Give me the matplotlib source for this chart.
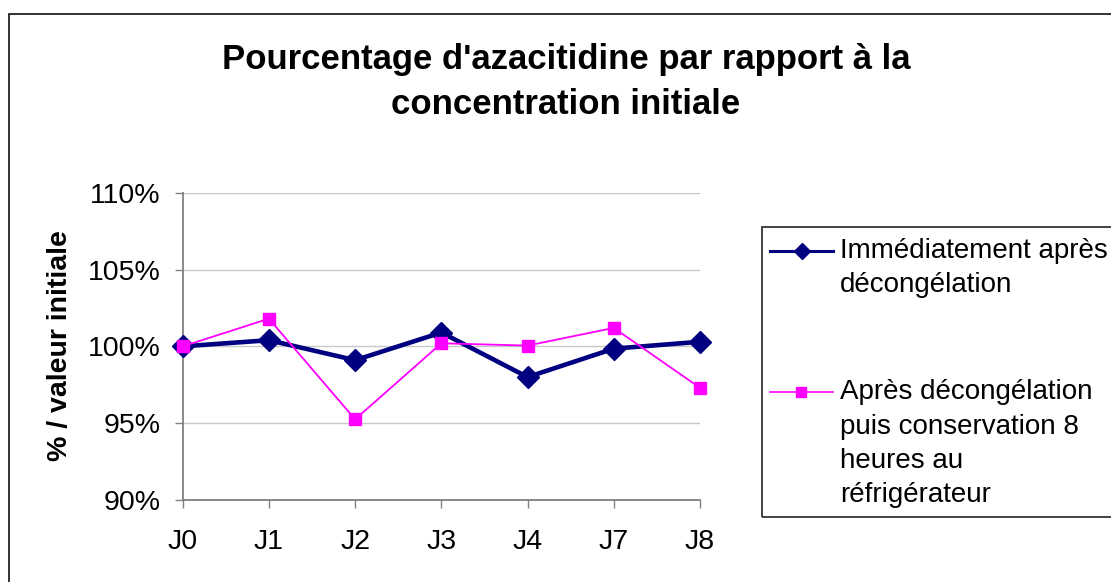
import matplotlib
matplotlib.use("Agg")
import matplotlib.pyplot as plt
from matplotlib.lines import Line2D
from matplotlib.patches import Rectangle
from matplotlib.ticker import FuncFormatter

plt.rcParams['font.family'] = ['Liberation Sans', 'DejaVu Sans']

categories = ["J0", "J1", "J2", "J3", "J4", "J7", "J8"]
immediat = [100.0, 100.4, 99.1, 100.9, 98.0, 99.85, 100.3]
conserve = [100.0, 101.8, 95.25, 100.2, 100.05, 101.2, 97.3]
title = "Pourcentage d'azacitidine par rapport à la\nconcentration initiale"
ylabel = "% / valeur initiale"
label1 = ["Immédiatement après", "décongélation"]
label2 = ["Après décongélation", "puis conservation 8", "heures au", "réfrigérateur"]
yticks = [90, 95, 100, 105, 110]

W, H = 1111, 582
fig = plt.figure(figsize=(W / 100, H / 100), dpi=100)

def fx(x):
    return x / W

def fy(y):
    return 1 - y / H

# outer chart border (extends beyond figure right/bottom)
fig.patches.append(Rectangle((fx(8.5), fy(700)), fx(1200), fy(13.7) - fy(700),
                             transform=fig.transFigure, fill=False,
                             edgecolor='#222222', linewidth=1.3))

ax = fig.add_axes([fx(182.7), fy(500), fx(700) - fx(182.7), fy(192.7) - fy(500)])
x = list(range(len(categories)))
ax.plot(x, immediat, color='#000080', linewidth=3.3, marker='D', markersize=11,
        markerfacecolor='#000080', markeredgecolor='#000080', clip_on=False, zorder=3)
ax.plot(x, conserve, color='#FF00FF', linewidth=1.3, marker='s', markersize=9,
        markerfacecolor='#FF00FF', markeredgecolor='#FF00FF', clip_on=False, zorder=4)

ax.set_xlim(0, len(categories) - 1)
ax.set_ylim(90, 110)
ax.set_yticks(yticks)
ax.yaxis.set_major_formatter(FuncFormatter(lambda v, p: f"{v:.0f}%"))
ax.set_xticks(x)
ax.set_xticklabels(categories)
ax.grid(axis='y', color='#c8c8c8', linewidth=1)
ax.set_axisbelow(True)
for s in ['top', 'right']:
    ax.spines[s].set_visible(False)
for s in ['left', 'bottom']:
    ax.spines[s].set_color('#808080')
    ax.spines[s].set_linewidth(1.3)
ax.tick_params(axis='y', length=6, width=1, color='#808080', labelsize=20.5, pad=10)
ax.tick_params(axis='x', length=6, width=1, color='#808080', labelsize=20.5, pad=15)

fig.text(fx(60), fy(346), ylabel, rotation=90, ha='center', va='center',
         fontsize=20.5, fontweight='bold')
fig.text(fx(566), fy(82), title, ha='center', va='center', fontsize=25,
         fontweight='bold', linespacing=1.45)

# legend box (extends past the figure edge)
fig.patches.append(Rectangle((fx(762), fy(517)), fx(500), fy(227) - fy(517),
                             transform=fig.transFigure, fill=False,
                             edgecolor='#222222', linewidth=1.2))
fig.lines.append(Line2D([fx(770), fx(833)], [fy(251), fy(251)], transform=fig.transFigure,
                        color='#000080', linewidth=2.2))
fig.lines.append(Line2D([fx(801.5)], [fy(251)], transform=fig.transFigure, marker='D',
                        markersize=8, color='#000080', linestyle='none'))
fig.lines.append(Line2D([fx(770), fx(833)], [fy(392), fy(392)], transform=fig.transFigure,
                        color='#FF00FF', linewidth=1.2))
fig.lines.append(Line2D([fx(801)], [fy(392)], transform=fig.transFigure, marker='s',
                        markersize=7, color='#FF00FF', linestyle='none'))

sp = 34.5
for i, t in enumerate(label1):
    fig.text(fx(840), fy(251 + i * sp), t, ha='left', va='center', fontsize=20)
for i, t in enumerate(label2):
    fig.text(fx(840), fy(392 + i * sp), t, ha='left', va='center', fontsize=20)

fig.savefig("out.png", dpi=100)
